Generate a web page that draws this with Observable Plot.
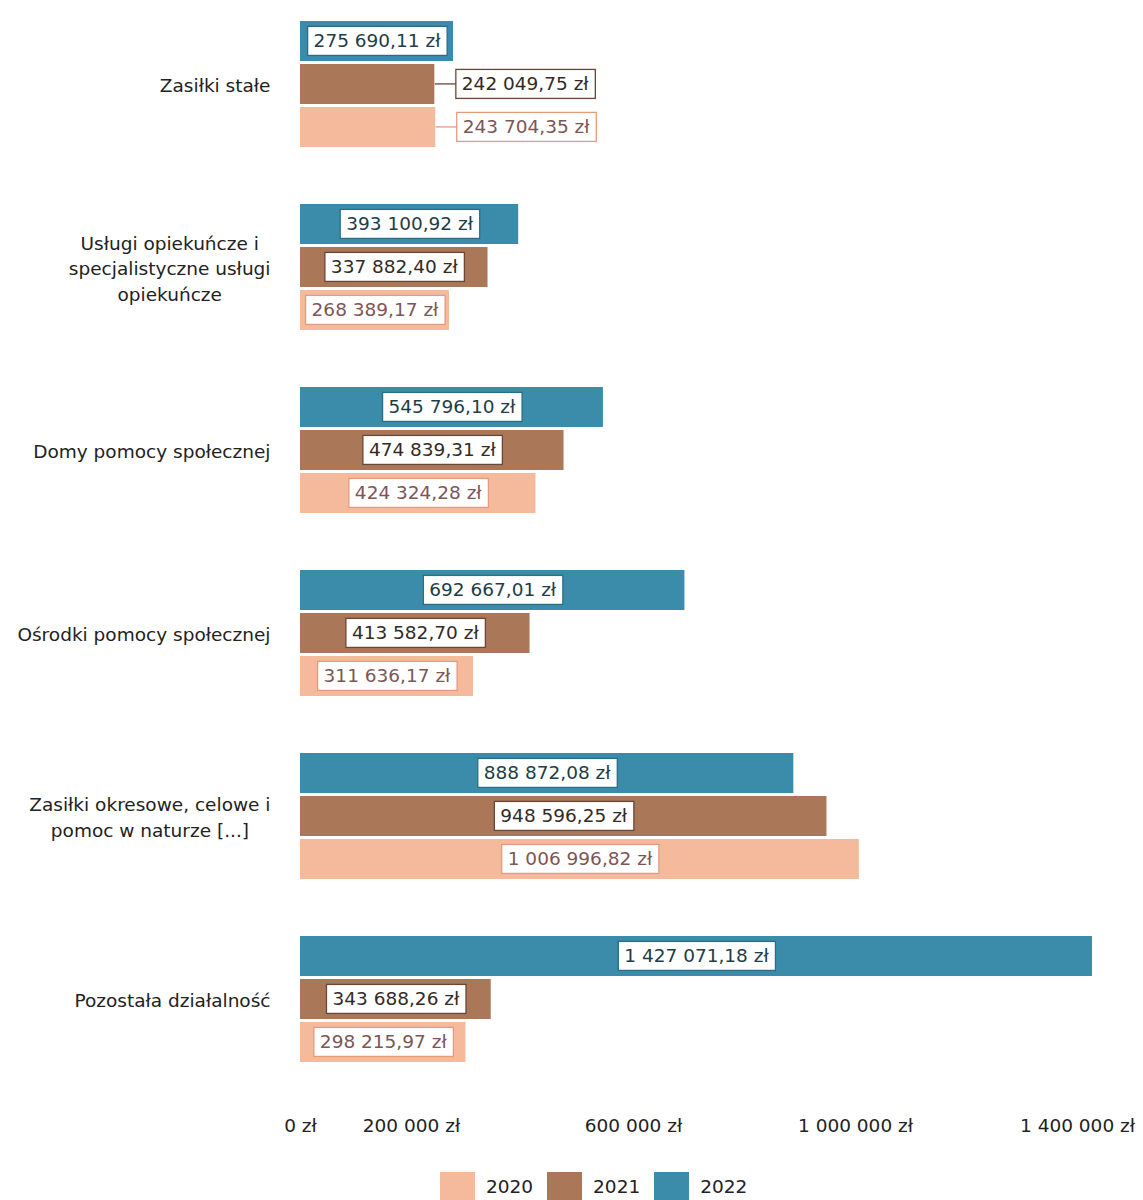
<!DOCTYPE html>
<html><head><meta charset="utf-8">
<script src="https://cdn.jsdelivr.net/npm/d3@7"></script>
<script src="https://cdn.jsdelivr.net/npm/@observablehq/plot@0.6"></script>
<style>
body{margin:0;background:#fff;font-family:"DejaVu Sans",Verdana,sans-serif;}
#legend{display:flex;align-items:center;padding-left:440px;padding-top:12px;font-size:18.5px;color:#222;}
.item{display:flex;align-items:center;margin-right:14px}
.sw{width:35px;height:28px;margin-right:11px}
</style></head><body><div id="chart"></div><div id="legend"></div>
<script>
const categories = [
  "Zasiłki stałe",
  "Usługi opiekuńcze i specjalistyczne usługi opiekuńcze",
  "Domy pomocy społecznej",
  "Ośrodki pomocy społecznej",
  "Zasiłki okresowe, celowe i pomoc w naturze [...]",
  "Pozostała działalność"
];
const categoryLabels = [
  "Zasiłki stałe",
  "Usługi opiekuńcze i\nspecjalistyczne usługi\nopiekuńcze",
  "Domy pomocy społecznej",
  "Ośrodki pomocy społecznej",
  "Zasiłki okresowe, celowe i\npomoc w naturze [...]",
  "Pozostała działalność"
];
const years = ["2022", "2021", "2020"];
const legendYears = ["2020", "2021", "2022"];
const values2022 = [275690.11, 393100.92, 545796.10, 692667.01, 888872.08, 1427071.18];
const values2021 = [242049.75, 337882.40, 474839.31, 413582.70, 948596.25, 343688.26];
const values2020 = [243704.35, 268389.17, 424324.28, 311636.17, 1006996.82, 298215.97];
const xTicks = [0, 200000, 600000, 1000000, 1400000];
const barColors = {"2020": "#f5b99c", "2021": "#ab7759", "2022": "#3b8cab"};
const textColors = {"2020": "#7d5656", "2021": "#332b27", "2022": "#1e3d47"};
const borderColors = {"2020": "#e39c80", "2021": "#6a4634", "2022": "#2a6d86"};

const valuesByYear = {"2022": values2022, "2021": values2021, "2020": values2020};
const rows = [];
categories.forEach((c, i) => years.forEach(y => rows.push({category: c, year: y, value: valuesByYear[y][i]})));

const loc = d3.formatLocale({decimal: ",", thousands: " ", grouping: [3], currency: ["", " zł"]});
const fmtVal = d => loc.format(",.2f")(d) + " zł";
const fmtAxis = d => loc.format(",.0f")(d) + " zł";

const W = 1143, H = 1160, mL = 300, mR = 66, mT = 13, mB = 91;
const FS = 18.5;
const xMax = 1400000;
const pxPerUnit = (W - mL - mR) / xMax;
const cv = document.createElement("canvas").getContext("2d");
cv.font = `${FS}px "DejaVu Sans"`;
rows.forEach(r => { r.outside = cv.measureText(fmtVal(r.value)).width + 12 > r.value * pxPerUnit; });

const labelMarks = years.flatMap(y => [
  Plot.text(rows.filter(r => r.year === y && !r.outside), {
    fy: "category", y: "year", x: d => d.value / 2, text: d => fmtVal(d.value),
    fill: textColors[y], fontSize: FS, textAnchor: "middle", ariaDescription: "vlabel-" + y + "-in"
  }),
  Plot.text(rows.filter(r => r.year === y && r.outside), {
    fy: "category", y: "year", x: "value", text: d => fmtVal(d.value),
    fill: textColors[y], fontSize: FS, textAnchor: "start", dx: 27, ariaDescription: "vlabel-" + y + "-out"
  })
]);

const chart = Plot.plot({
  width: W, height: H,
  marginLeft: mL, marginRight: mR, marginTop: mT, marginBottom: mB,
  style: {fontFamily: '"DejaVu Sans", Verdana, sans-serif', fontSize: FS + "px", color: "#222", background: "white"},
  x: {domain: [0, xMax], ticks: xTicks, tickFormat: fmtAxis, tickSize: 0, tickPadding: 52, label: null},
  fy: {domain: categories, axis: null, paddingInner: 0.26, paddingOuter: 0},
  y: {domain: years, axis: null, padding: 0.07},
  color: {domain: years, range: years.map(y => barColors[y])},
  marks: [
    Plot.barX(rows, {fy: "category", y: "year", x: "value", fill: "year"}),
    ...labelMarks,
    Plot.text(categories, {
      fy: d => d, frameAnchor: "left", dx: -30, textAnchor: "end",
      text: (d, i) => categoryLabels[categories.indexOf(d)], fill: "#222", fontSize: FS,
      lineHeight: 1.38, ariaDescription: "catlabels"
    })
  ]
});
document.getElementById("chart").append(chart);

// boxes behind value labels (measured from rendered text)
const NS = "http://www.w3.org/2000/svg";
chart.querySelectorAll('g[aria-description^="vlabel"]').forEach(g => {
  const [, yr, side] = g.getAttribute("aria-description").split("-");
  g.querySelectorAll("text").forEach(t => {
    const parent = t.parentNode;
    const bb = t.getBBox();
    const px = 6, py = 4;
    const rect = document.createElementNS(NS, "rect");
    rect.setAttribute("x", bb.x - px);
    rect.setAttribute("y", bb.y - py);
    rect.setAttribute("width", bb.width + 2 * px);
    rect.setAttribute("height", bb.height + 2 * py);
    rect.setAttribute("fill", "white");
    rect.setAttribute("stroke", borderColors[yr]);
    rect.setAttribute("stroke-width", 1.3);
    const tr = t.getAttribute("transform");
    if (tr) rect.setAttribute("transform", tr);
    parent.insertBefore(rect, t);
    if (side === "out") {
      const ln = document.createElementNS(NS, "line");
      ln.setAttribute("x1", bb.x - 27);
      ln.setAttribute("x2", bb.x - px);
      ln.setAttribute("y1", bb.y + bb.height / 2);
      ln.setAttribute("y2", bb.y + bb.height / 2);
      ln.setAttribute("stroke", borderColors[yr]);
      ln.setAttribute("stroke-width", 1.3);
      if (tr) ln.setAttribute("transform", tr);
      parent.insertBefore(ln, rect);
    }
  });
});

// center multi-line category labels within their block
chart.querySelectorAll('g[aria-description="catlabels"] text').forEach(t => {
  const spans = t.querySelectorAll("tspan");
  if (spans.length < 2) return;
  const w = Math.max(...Array.from(spans, s => s.getComputedTextLength()));
  const x0 = +(t.getAttribute("x") || 0);
  t.setAttribute("text-anchor", "middle");
  spans.forEach(s => s.setAttribute("x", x0 - w / 2));
});

// legend
const lg = document.getElementById("legend");
legendYears.forEach(y => {
  const it = document.createElement("div"); it.className = "item";
  const sw = document.createElement("div"); sw.className = "sw"; sw.style.background = barColors[y];
  const tx = document.createElement("span"); tx.textContent = y;
  it.append(sw, tx); lg.append(it);
});
</script></body></html>
